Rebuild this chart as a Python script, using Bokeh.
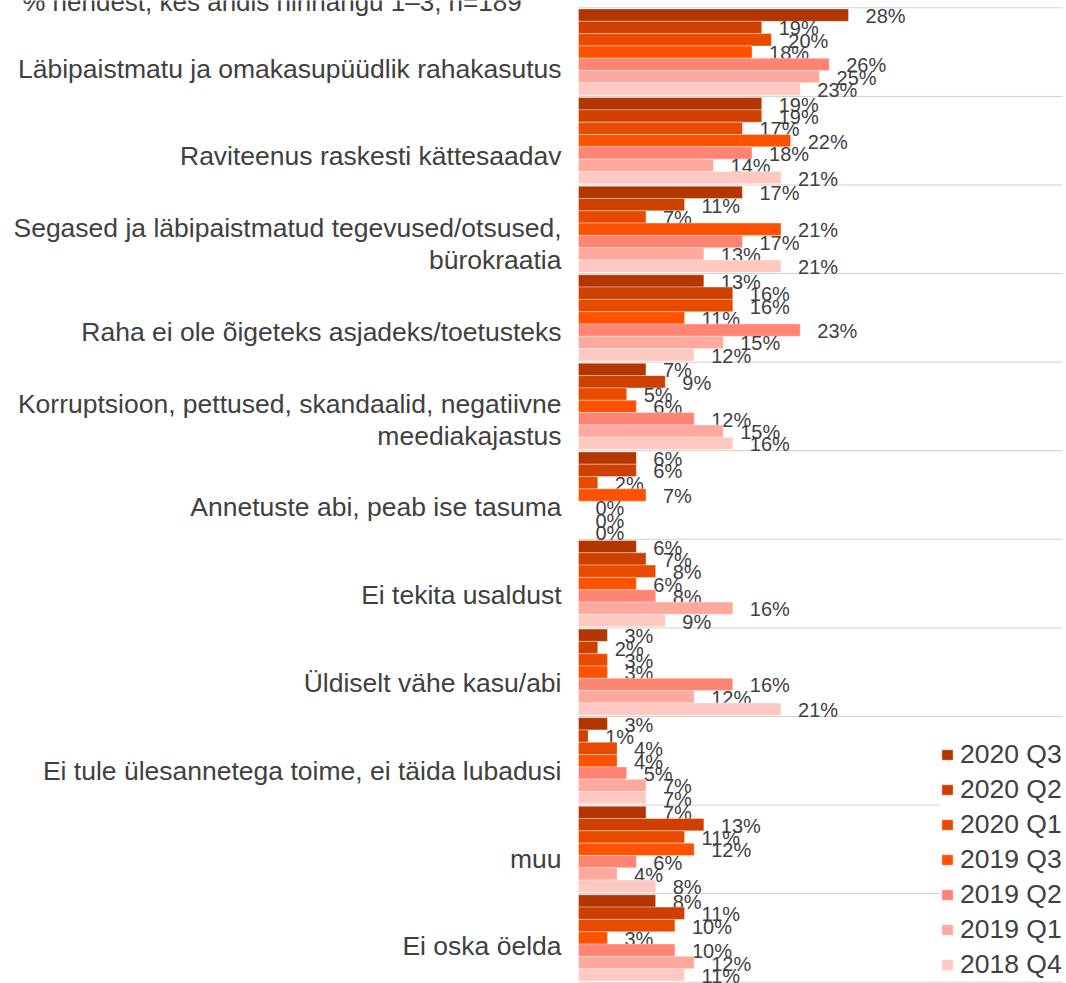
from bokeh.plotting import figure
from bokeh.models import ColumnDataSource, Range1d
from bokeh.transform import dodge
from bokeh.core.properties import value
from bokeh.embed import file_html
from bokeh.resources import INLINE

title_text = "% nendest, kes andis hinnangu 1\u20133, n=189"

categories = [
    "Läbipaistmatu ja omakasupüüdlik rahakasutus",
    "Raviteenus raskesti kättesaadav",
    "Segased ja läbipaistmatud tegevused/otsused,\nbürokraatia",
    "Raha ei ole õigeteks asjadeks/toetusteks",
    "Korruptsioon, pettused, skandaalid, negatiivne\nmeediakajastus",
    "Annetuste abi, peab ise tasuma",
    "Ei tekita usaldust",
    "Üldiselt vähe kasu/abi",
    "Ei tule ülesannetega toime, ei täida lubadusi",
    "muu",
    "Ei oska öelda",
]

series = ["2020 Q3", "2020 Q2", "2020 Q1", "2019 Q3", "2019 Q2", "2019 Q1", "2018 Q4"]
colors = ["#B33600", "#CF4000", "#E84A00", "#FF5200", "#FF8473", "#FFA89D", "#FFC8C1"]

v_2020_q3 = [28, 19, 17, 13, 7, 6, 6, 3, 3, 7, 8]
v_2020_q2 = [19, 19, 11, 16, 9, 6, 7, 2, 1, 13, 11]
v_2020_q1 = [20, 17, 7, 16, 5, 2, 8, 3, 4, 11, 10]
v_2019_q3 = [18, 22, 21, 11, 6, 7, 6, 3, 4, 12, 3]
v_2019_q2 = [26, 18, 17, 23, 12, 0, 8, 16, 5, 6, 10]
v_2019_q1 = [25, 14, 13, 15, 15, 0, 16, 12, 7, 4, 12]
v_2018_q4 = [23, 21, 21, 12, 16, 0, 9, 21, 7, 8, 11]

values = [v_2020_q3, v_2020_q2, v_2020_q1, v_2019_q3, v_2019_q2, v_2019_q1, v_2018_q4]

n = len(categories)

# ---- layout constants (pixels) ----
W, H = 1066, 983
X0 = 578.0          # pixel position of the 0 % line
PX_PCT = 9.643      # pixels per percentage point
Y0 = 7.3            # pixel position of the top of the first band
PX = 88.58          # pixels per category band
GRID_RIGHT = 1062.0

data = {"yc": [i + 0.5 for i in range(n)]}
for j, vals in enumerate(values):
    data[f"s{j}"] = vals
    data[f"t{j}"] = [f"{v}%" for v in vals]
source = ColumnDataSource(data)

cat_source = ColumnDataSource(dict(
    y=[i + 0.5 + (16.5 - 0.8 * i) / PX for i in range(n)],
    x=[0] * n,
    text=categories,
))
grid_source = ColumnDataSource(dict(
    y=list(range(n + 1)),
    x0=[0] * (n + 1),
    x1=[(GRID_RIGHT - X0) / PX_PCT] * (n + 1),
))

FONT = "Liberation Sans"
TXT = "#404040"

p = figure(
    width=W, height=H,
    x_range=Range1d(-X0 / PX_PCT, (W - X0) / PX_PCT),
    y_range=Range1d((H - Y0) / PX, -Y0 / PX),
    x_axis_location=None, y_axis_location=None,
    output_backend="svg", toolbar_location=None,
    min_border_left=0, min_border_right=0, min_border_top=0, min_border_bottom=0,
)
p.outline_line_color = None
p.background_fill_color = "white"
p.border_fill_color = "white"
p.xgrid.grid_line_color = None
p.ygrid.grid_line_color = None

# category separators
p.segment(x0="x0", x1="x1", y0="y", y1="y", source=grid_source,
          line_color="#d0d0d0", line_width=1)

bar_h = 0.139
for j, name in enumerate(series):
    off = (j - 3) * bar_h
    p.hbar(y=dodge("yc", off), left=0, right=f"s{j}", height=bar_h, source=source,
           fill_color=colors[j], line_color="white", line_alpha=0.35, line_width=1,
           legend_label=name)
    p.text(x=f"s{j}", y=dodge("yc", off), text=f"t{j}", source=source,
           x_offset=17, y_offset=1, text_align="left", text_baseline="middle",
           text_font=value(FONT), text_font_size="20px", text_color=TXT)

# category labels
p.text(x="x", y="y", text="text", source=cat_source, x_offset=-17,
       text_align="right", text_baseline="middle",
       text_font=value(FONT), text_font_size="26.5px", text_color=TXT,
       text_line_height=1.07)

# title line (partly above the visible area, as in the original)
p.text(x=[0], y=[0], text=[title_text], x_offset=-(X0 - 21.7), y_offset=-6,
       text_align="left", text_baseline="alphabetic",
       text_font=value(FONT), text_font_size="26px", text_color=TXT)

lg = p.legend[0]
lg.location = (940, 3)
lg.margin = 0
lg.padding = 10
lg.spacing = 4
lg.label_height = 30
lg.glyph_width = 14
lg.glyph_height = 13
lg.label_standoff = 6
lg.label_text_font = FONT
lg.label_text_font_size = "26.5px"
lg.label_text_color = TXT
lg.border_line_color = None
lg.background_fill_color = "white"
lg.background_fill_alpha = 1.0

open("out.html", "w").write(file_html(p, INLINE))
